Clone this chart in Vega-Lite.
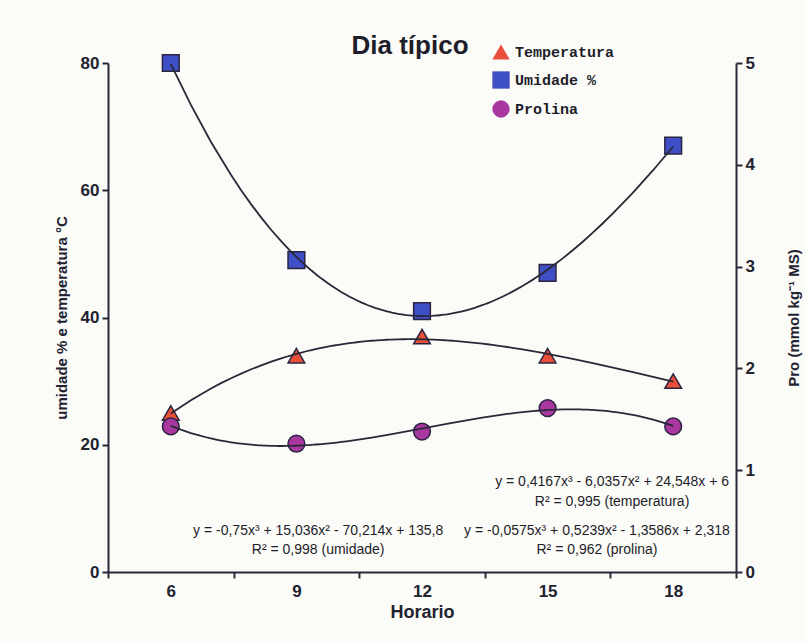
{
  "$schema": "https://vega.github.io/schema/vega-lite/v6.json",
  "autosize": {"type": "none"},
  "width": 628,
  "height": 509,
  "padding": {"left": 108, "top": 63, "right": 69, "bottom": 71},
  "background": "#fbfbf8",
  "config": {
    "view": {"stroke": null},
    "font": "Liberation Sans",
    "axis": {
      "grid": false,
      "domainColor": "#2a2838",
      "domainWidth": 2,
      "tickColor": "#2a2838",
      "tickWidth": 2,
      "tickSize": 6,
      "labelFont": "Liberation Sans",
      "labelFontWeight": "bold",
      "labelFontSize": 17,
      "labelColor": "#222230",
      "titleFont": "Liberation Sans",
      "titleFontWeight": "bold",
      "titleColor": "#222230"
    }
  },
  "title": {
    "text": "Dia típico",
    "font": "Liberation Sans",
    "fontSize": 26,
    "fontWeight": "bold",
    "color": "#1e1e2a",
    "anchor": "middle",
    "dx": -12,
    "offset": -16
  },
  "datasets": {
    "medidas": [
      {"hora": 6, "serie": "Temperatura", "eixo": "esq", "valor": 25},
      {"hora": 9, "serie": "Temperatura", "eixo": "esq", "valor": 34},
      {"hora": 12, "serie": "Temperatura", "eixo": "esq", "valor": 37},
      {"hora": 15, "serie": "Temperatura", "eixo": "esq", "valor": 34},
      {"hora": 18, "serie": "Temperatura", "eixo": "esq", "valor": 30},
      {"hora": 6, "serie": "Umidade %", "eixo": "esq", "valor": 80},
      {"hora": 9, "serie": "Umidade %", "eixo": "esq", "valor": 49},
      {"hora": 12, "serie": "Umidade %", "eixo": "esq", "valor": 41},
      {"hora": 15, "serie": "Umidade %", "eixo": "esq", "valor": 47},
      {"hora": 18, "serie": "Umidade %", "eixo": "esq", "valor": 67},
      {"hora": 6, "serie": "Prolina", "eixo": "dir", "valor": 1.43},
      {"hora": 9, "serie": "Prolina", "eixo": "dir", "valor": 1.26},
      {"hora": 12, "serie": "Prolina", "eixo": "dir", "valor": 1.38},
      {"hora": 15, "serie": "Prolina", "eixo": "dir", "valor": 1.61},
      {"hora": 18, "serie": "Prolina", "eixo": "dir", "valor": 1.43}
    ],
    "equacoes": [
      {"hora": 16.54, "valor": 14.2, "t": "y = 0,4167x³ - 6,0357x² + 24,548x + 6"},
      {"hora": 16.54, "valor": 11.0, "t": "R² = 0,995 (temperatura)"},
      {"hora": 9.52, "valor": 6.5, "t": "y = -0,75x³ + 15,036x² - 70,214x + 135,8"},
      {"hora": 9.52, "valor": 3.5, "t": "R² = 0,998 (umidade)"},
      {"hora": 16.18, "valor": 6.5, "t": "y = -0,0575x³ + 0,5239x² - 1,3586x + 2,318"},
      {"hora": 16.18, "valor": 3.5, "t": "R² = 0,962 (prolina)"}
    ]
  },
  "encoding": {
    "x": {
      "field": "hora",
      "type": "quantitative",
      "scale": {"domain": [4.5, 19.5], "nice": false, "zero": false},
      "axis": {
        "title": "Horario",
        "titleFontSize": 18,
        "titlePadding": 4,
        "values": [4.5, 6, 7.5, 9, 10.5, 12, 13.5, 15, 16.5, 18, 19.5],
        "labelExpr": "datum.value % 3 == 0 ? datum.label : ''",
        "tickOpacity": {"condition": {"test": "datum.value % 3 == 0", "value": 0}, "value": 1},
        "labelOverlap": false,
        "labelFlush": false,
        "labelPadding": 5
      }
    }
  },
  "layer": [
    {
      "encoding": {
        "y": {
          "field": "valor",
          "type": "quantitative",
          "scale": {"domain": [0, 80], "nice": false},
          "axis": {
            "title": "umidade % e temperatura °C",
            "titleFontSize": 15,
            "titlePadding": 11,
            "values": [0, 20, 40, 60, 80],
            "labelPadding": 3
          }
        }
      },
      "layer": [
        {
          "data": {"name": "medidas"},
          "transform": [{"filter": "datum.eixo == 'esq'"}],
          "mark": {"type": "point", "filled": true, "opacity": 1, "size": 280, "stroke": "#2a2440", "strokeWidth": 1.5},
          "encoding": {
            "color": {
              "field": "serie",
              "type": "nominal",
              "sort": ["Temperatura", "Umidade %", "Prolina"],
              "scale": {"domain": ["Temperatura", "Umidade %", "Prolina"], "range": ["#e8503c", "#3f4fc6", "#a8379f"]},
              "legend": {
                "title": null,
                "orient": "none",
                "legendX": 384,
                "legendY": -20,
                "padding": 0,
                "symbolSize": 300,
                "symbolStrokeWidth": 0,
                "symbolOpacity": 1,
                "rowPadding": 11,
                "labelOffset": 5,
                "labelFont": "Liberation Mono",
                "labelFontWeight": "bold",
                "labelFontSize": 15,
                "labelColor": "#1e1e2a"
              }
            },
            "shape": {
              "field": "serie",
              "type": "nominal",
              "sort": ["Temperatura", "Umidade %", "Prolina"],
              "scale": {"domain": ["Temperatura", "Umidade %", "Prolina"], "range": ["triangle-up", "square", "circle"]},
              "legend": null
            }
          }
        },
        {
          "data": {"name": "medidas"},
          "transform": [
            {"filter": "datum.eixo == 'esq'"},
            {"regression": "valor", "on": "hora", "groupby": ["serie"], "method": "poly", "order": 3}
          ],
          "mark": {"type": "line", "color": "#2a2838", "strokeWidth": 1.8},
          "encoding": {"detail": {"field": "serie", "type": "nominal"}}
        },
        {
          "data": {"name": "equacoes"},
          "mark": {"type": "text", "font": "Liberation Sans", "fontSize": 14, "color": "#1e1e2a", "align": "center", "baseline": "middle"},
          "encoding": {"text": {"field": "t", "type": "nominal"}}
        }
      ]
    },
    {
      "encoding": {
        "y": {
          "field": "valor",
          "type": "quantitative",
          "scale": {"domain": [0, 5], "nice": false},
          "axis": {
            "orient": "right",
            "title": "Pro (mmol kg⁻¹ MS)",
            "titleFontSize": 15,
            "titleAngle": 270,
            "titleBaseline": "top",
            "titlePadding": 32,
            "values": [0, 1, 2, 3, 4, 5],
            "labelPadding": 3
          }
        }
      },
      "layer": [
        {
          "data": {"name": "medidas"},
          "transform": [{"filter": "datum.eixo == 'dir'"}],
          "mark": {"type": "point", "filled": true, "opacity": 1, "size": 280, "stroke": "#2a2440", "strokeWidth": 1.5},
          "encoding": {
            "color": {"field": "serie", "type": "nominal"},
            "shape": {"field": "serie", "type": "nominal"}
          }
        },
        {
          "data": {"name": "medidas"},
          "transform": [
            {"filter": "datum.eixo == 'dir'"},
            {"regression": "valor", "on": "hora", "method": "poly", "order": 3}
          ],
          "mark": {"type": "line", "color": "#2a2838", "strokeWidth": 1.8},
          "encoding": {}
        }
      ]
    }
  ],
  "resolve": {"scale": {"y": "independent"}, "axis": {"y": "independent"}}
}
